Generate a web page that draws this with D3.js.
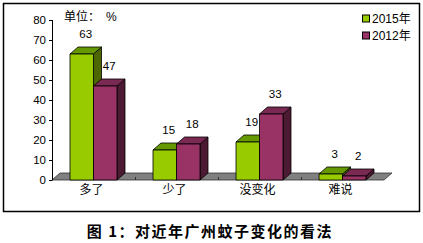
<!DOCTYPE html>
<html><head><meta charset="utf-8">
<script src="https://cdn.jsdelivr.net/npm/d3@7"></script>
<style>body{margin:0;background:#fff;}svg{display:block;}</style>
</head><body>
<svg id="c" width="423" height="243"></svg>
<script>
const categories = ["多了", "少了", "没变化", "难说"];
const seriesNames = ["2015年", "2012年"];
const values2015 = [63, 15, 19, 3];
const values2012 = [47, 18, 33, 2];
const yTicks = [0, 10, 20, 30, 40, 50, 60, 70, 80];

const svg = d3.select("#c");
const font = "'Liberation Sans', Arial, 'Noto Sans CJK SC', sans-serif";
const cjk = "'Noto Sans CJK SC', sans-serif";

const dx = 8, dy = 7;
const y = d3.scaleLinear().domain([0, 80]).range([180, 20]);
const x = d3.scaleBand().domain(categories).range([52, 384]).paddingInner(0).paddingOuter(0);
const x1 = d3.scaleBand().domain(seriesNames).range([0, 47]);
const innerOffset = (x.bandwidth() - 47) / 2;

const colors = {
  "2015年": {front: "#99cc00", top: "#669900", side: "#4d6600"},
  "2012年": {front: "#993366", top: "#7a2952", side: "#4d1a33"}
};

// border
svg.append("rect").attr("x", 3.5).attr("y", 3.5).attr("width", 416).attr("height", 208)
  .attr("fill", "#fff").attr("stroke", "#000").attr("stroke-width", 1.5);

// floor
const x0 = x.range()[0], xEnd = x.range()[1];
svg.append("polygon")
  .attr("points", [[x0, y(0)], [x0 + dx, y(0) - dy], [xEnd + dx, y(0) - dy], [xEnd, y(0)]].map(p => p.join(",")).join(" "))
  .attr("fill", "#808080").attr("stroke", "#333").attr("stroke-width", 0.8);
categories.slice(1).forEach(c => {
  const bx = x(c);
  svg.append("line").attr("x1", bx + 0.5).attr("x2", bx + 0.5).attr("y1", y(0) - 3).attr("y2", y(0))
    .attr("stroke", "#333").attr("stroke-width", 1);
});

// y axis
svg.append("line").attr("x1", 52.5).attr("x2", 52.5).attr("y1", y(80)).attr("y2", y(0))
  .attr("stroke", "#000").attr("stroke-width", 1);
yTicks.forEach(t => {
  svg.append("line").attr("x1", 49).attr("x2", 52.5).attr("y1", Math.round(y(t)) + 0.5).attr("y2", Math.round(y(t)) + 0.5)
    .attr("stroke", "#000");
  svg.append("text").attr("x", 46).attr("y", y(t)).attr("dy", "0.35em").attr("text-anchor", "end")
    .attr("font-family", font).attr("font-size", 11.5).attr("fill", "#000").text(t);
});

// bars
const series = [{name: "2015年", vals: values2015}, {name: "2012年", vals: values2012}];
categories.forEach((c, i) => {
  series.forEach(s => {
    const v = s.vals[i];
    const bx = x(c) + innerOffset + x1(s.name);
    const w = x1.bandwidth();
    const yt = y(v), yb = y(0);
    const col = colors[s.name];
    const g = svg.append("g").attr("stroke", "#000").attr("stroke-width", 0.8).attr("stroke-linejoin", "round");
    g.append("polygon").attr("fill", col.side)
      .attr("points", [[bx + w, yt], [bx + w + dx, yt - dy], [bx + w + dx, yb - dy], [bx + w, yb]].map(p => p.join(",")).join(" "));
    g.append("polygon").attr("fill", col.top)
      .attr("points", [[bx, yt], [bx + dx, yt - dy], [bx + w + dx, yt - dy], [bx + w, yt]].map(p => p.join(",")).join(" "));
    g.append("rect").attr("x", bx).attr("y", yt).attr("width", w).attr("height", yb - yt).attr("fill", col.front);
    svg.append("text").attr("x", bx + w / 2 + 4).attr("y", yt - 20).attr("dy", "0.35em").attr("text-anchor", "middle")
      .attr("font-family", font).attr("font-size", 11.5).attr("fill", "#000").text(v);
  });
});

// category labels
categories.forEach(c => {
  svg.append("text").attr("x", x(c) + x.bandwidth() / 2 - 2).attr("y", 189.5).attr("dy", "0.35em")
    .attr("text-anchor", "middle").attr("font-family", cjk).attr("font-size", 12).attr("fill", "#000").text(c);
});

// unit label
svg.append("text").attr("x", 64).attr("y", 17).attr("dy", "0.35em").attr("font-family", cjk)
  .attr("font-size", 12).attr("fill", "#000").text("单位：");
svg.append("text").attr("x", 106).attr("y", 17).attr("dy", "0.35em").attr("font-family", font)
  .attr("font-size", 12).attr("fill", "#000").text("%");

// legend
series.forEach((s, i) => {
  const ly = 18.5 + i * 17;
  svg.append("rect").attr("x", 362.5).attr("y", ly - 3.5).attr("width", 7).attr("height", 7)
    .attr("fill", colors[s.name].front).attr("stroke", "#000").attr("stroke-width", 1);
  svg.append("text").attr("x", 372).attr("y", ly).attr("dy", "0.35em").attr("font-family", font)
    .attr("font-size", 12).attr("fill", "#000").text(s.name);
});

// title
svg.append("text").attr("x", 210).attr("y", 232).attr("dy", "0.35em").attr("text-anchor", "middle")
  .attr("font-family", cjk).attr("font-weight", "bold").attr("font-size", 15).attr("letter-spacing", 1.5)
  .attr("fill", "#000")
  .text("图 1：对近年广州蚊子变化的看法");
</script>
</body></html>
